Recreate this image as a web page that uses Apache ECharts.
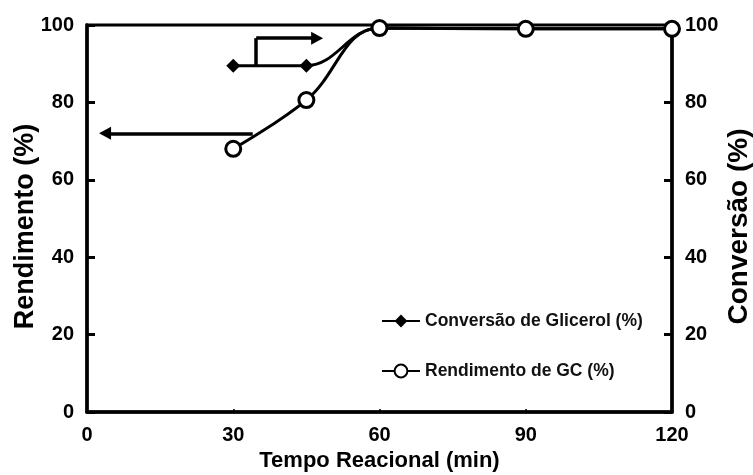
<!DOCTYPE html>
<html><head><meta charset="utf-8">
<script src="https://cdn.jsdelivr.net/npm/echarts@6/dist/echarts.min.js"></script>
<style>html,body{margin:0;padding:0;background:#fff}#c{width:753px;height:475px}</style>
</head><body><div id="c"></div>
<script>
const tempo = [30, 45, 60, 90, 120];
const conversao = [89.5, 89.5, 99.2, 99, 99];
const rendimento = [68, 80.6, 99.2, 99, 99];
const xTicks = [0, 30, 60, 90, 120];
const arrowLeft = [[34, 72], [3.7, 72]];
const arrowRightStem = [[34.7, 89.5], [34.7, 96.6]];
const arrowRight = [[34.7, 96.6], [47.2, 96.6]];

const F = 'Liberation Sans, Arial, sans-serif';
const chart = echarts.init(document.getElementById('c'));
const seg = (p, arrow) => [
  {coord: p[0], symbol: 'none'},
  {coord: p[1], symbol: arrow ? 'triangle' : 'none'}
];
chart.setOption({
  animation: false,
  backgroundColor: '#fff',
  grid: {left: 87, right: 81, top: 25, bottom: 63, containLabel: false, outerBoundsMode: 'none',
    show: true, borderColor: '#000', borderWidth: 3},
  legend: {
    orient: 'vertical', left: 381, top: 312, padding: 0, itemGap: 32, itemWidth: 38, itemHeight: 16,
    textStyle: {fontFamily: F, fontWeight: 'bold', fontSize: 17.5, color: '#111'},
    data: ['Conversão de Glicerol (%)', 'Rendimento de GC (%)']
  },
  xAxis: {
    type: 'value', min: 0, max: 120, interval: 30,
    name: 'Tempo Reacional (min)', nameLocation: 'middle', nameGap: 38, nameMoveOverlap: false,
    nameTextStyle: {fontFamily: F, fontWeight: 'bold', fontSize: 22, color: '#000'},
    axisLine: {lineStyle: {color: '#000', width: 3.5}},
    axisTick: {inside: true, length: 3, lineStyle: {color: '#000', width: 1.5}},
    axisLabel: {fontFamily: F, fontWeight: 'bold', fontSize: 20, color: '#000', margin: 13,
      formatter: v => xTicks.includes(v) ? String(v) : ''},
    splitLine: {show: false}
  },
  yAxis: [{
    type: 'value', min: 0, max: 100, interval: 20, position: 'left',
    name: 'Rendimento (%)', nameLocation: 'middle', nameGap: 48, nameMoveOverlap: false,
    nameTextStyle: {fontFamily: F, fontWeight: 'bold', fontSize: 27, color: '#000', padding: [0, 16, 0, 0]},
    axisLine: {show: true, lineStyle: {color: '#000', width: 3.5}},
    axisTick: {show: true, inside: true, length: 8, lineStyle: {color: '#000', width: 3}},
    axisLabel: {fontFamily: F, fontWeight: 'bold', fontSize: 20, color: '#000', margin: 13},
    splitLine: {show: false}
  }, {
    type: 'value', min: 0, max: 100, interval: 20, position: 'right',
    name: 'Conversão (%)', nameLocation: 'middle', nameGap: 53, nameMoveOverlap: false,
    nameTextStyle: {fontFamily: F, fontWeight: 'bold', fontSize: 28, color: '#000', padding: [0, 16, 0, 0]},
    axisLine: {show: true, lineStyle: {color: '#000', width: 3.5}},
    axisTick: {show: true, inside: true, length: 8, lineStyle: {color: '#000', width: 3}},
    axisLabel: {fontFamily: F, fontWeight: 'bold', fontSize: 20, color: '#000', margin: 13},
    splitLine: {show: false}
  }],
  series: [{
    name: 'Conversão de Glicerol (%)', type: 'line', yAxisIndex: 1, smooth: 0.4,
    data: tempo.map((t, i) => [t, conversao[i]]),
    symbol: 'diamond', symbolSize: 14,
    itemStyle: {color: '#000'}, lineStyle: {color: '#000', width: 3},
    markLine: {
      silent: true, symbolSize: [13, 12], label: {show: false},
      itemStyle: {color: '#000'},
      lineStyle: {color: '#000', width: 3.5, type: 'solid'},
      emphasis: {disabled: true},
      data: [seg(arrowLeft, true), seg(arrowRightStem, false), seg(arrowRight, true)]
    }
  }, {
    name: 'Rendimento de GC (%)', type: 'line', yAxisIndex: 0, smooth: 0.4,
    data: tempo.map((t, i) => [t, rendimento[i]]),
    symbol: 'circle', symbolSize: 15,
    itemStyle: {color: '#fff', borderColor: '#000', borderWidth: 3}, lineStyle: {color: '#000', width: 3}
  }]
});
</script></body></html>
